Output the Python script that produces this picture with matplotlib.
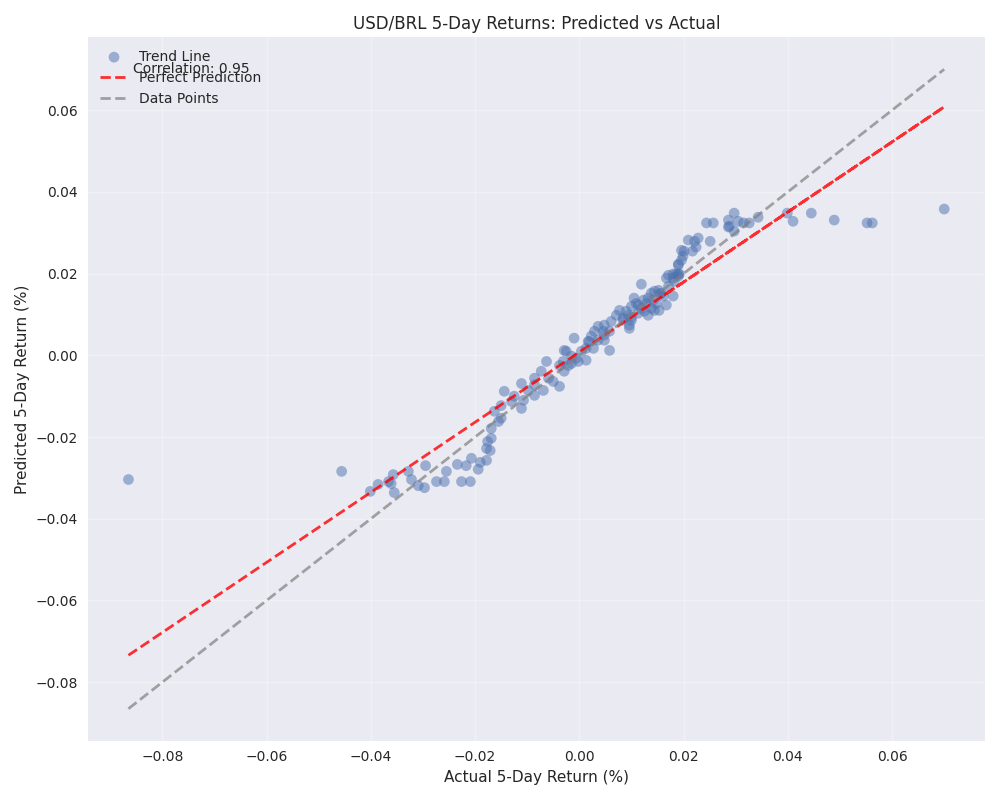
import matplotlib
matplotlib.use("Agg")
import matplotlib.pyplot as plt
import numpy as np

plt.style.use("seaborn-v0_8")
plt.rcParams["font.family"] = ["DejaVu Sans"]

# actual / predicted 5-day returns (kept in time order, unsorted)
actual = [
    -0.0865, -0.0456, -0.0401, -0.0386, -0.0366, -0.0361, -0.0357, -0.0355, -0.0328, -0.0322,
    -0.0309, -0.0297, -0.0295, -0.0274, -0.0259, -0.0255, -0.0234, -0.0226, -0.0217, -0.0209,
    -0.0207, -0.0194, -0.0190, -0.0178, -0.0178, -0.0176, -0.0171, -0.0169,
    -0.0169, 0.0297, -0.0155, 0.0288, 0.0700, -0.0150, 0.0286, -0.0163, 0.0305, -0.0150,
    0.0297, -0.0111, 0.0286, 0.0562, -0.0130, 0.0257, -0.0107, 0.0244, -0.0125, 0.0221,
    -0.0086, 0.0209, 0.0552, -0.0144, 0.0251, -0.0069, 0.0343, -0.0098, 0.0326, -0.0111,
    0.0315, 0.0489, -0.0086, 0.0171, -0.0038, 0.0190, -0.0050, 0.0180, -0.0059, 0.0190,
    0.0445, -0.0073, 0.0199, -0.0029, 0.0217, -0.0002, 0.0201, -0.0015, 0.0196, 0.0410,
    -0.0038, 0.0224, -0.0063, 0.0228, -0.0025, 0.0119, 0.0017, 0.0167, 0.0399,
    -0.0031, 0.0096, -0.0021, 0.0100, 0.0013, 0.0084, -0.0006, 0.0132, -0.0015, 0.0113,
    -0.0029, 0.0090, 0.0004, 0.0100, 0.0027, 0.0119, 0.0013, 0.0153, -0.0010, 0.0144,
    0.0058, 0.0167, 0.0048, 0.0148, 0.0019, 0.0129, 0.0036, 0.0109, 0.0023, 0.0105,
    0.0029, 0.0123, 0.0058, 0.0132, 0.0096, 0.0142, 0.0046, 0.0180, 0.0036, 0.0161,
    0.0048, 0.0138, 0.0061, 0.0144, 0.0084, 0.0152, 0.0138, 0.0171, 0.0125, 0.0182,
    0.0094, 0.0190, 0.0071, 0.0180, 0.0077, 0.0192, 0.0113, 0.0186, 0.0157, 0.0190,
    0.0100, 0.0196, 0.0048, -0.0086, 0.0155,
]
predicted = [
    -0.0304, -0.0284, -0.0333, -0.0316, -0.0309, -0.0314, -0.0292, -0.0336, -0.0284, -0.0304,
    -0.0319, -0.0324, -0.0270, -0.0309, -0.0309, -0.0284, -0.0267, -0.0309, -0.0270, -0.0309,
    -0.0252, -0.0279, -0.0262, -0.0257, -0.0228, -0.0211, -0.0233, -0.0203,
    -0.0179, 0.0304, -0.0162, 0.0316, 0.0358, -0.0154, 0.0314, -0.0137, 0.0328, -0.0123,
    0.0348, -0.0130, 0.0331, 0.0324, -0.0113, 0.0324, -0.0110, 0.0324, -0.0100, 0.0279,
    -0.0098, 0.0282, 0.0324, -0.0088, 0.0279, -0.0086, 0.0338, -0.0086, 0.0324, -0.0069,
    0.0324, 0.0331, -0.0056, 0.0196, -0.0076, 0.0199, -0.0064, 0.0199, -0.0056, 0.0223,
    0.0348, -0.0039, 0.0243, -0.0039, 0.0255, -0.0015, 0.0255, -0.0020, 0.0257, 0.0328,
    -0.0025, 0.0265, -0.0015, 0.0287, 0.0010, 0.0174, 0.0034, 0.0189, 0.0348,
    -0.0015, 0.0074, -0.0025, 0.0086, -0.0012, 0.0091, -0.0007, 0.0098, -0.0002, 0.0103,
    0.0012, 0.0108, 0.0010, 0.0120, 0.0017, 0.0115, 0.0017, 0.0110, 0.0042, 0.0110,
    0.0012, 0.0123, 0.0037, 0.0127, 0.0034, 0.0127, 0.0037, 0.0127, 0.0047, 0.0140,
    0.0059, 0.0135, 0.0059, 0.0140, 0.0066, 0.0135, 0.0059, 0.0145, 0.0071, 0.0145,
    0.0074, 0.0152, 0.0083, 0.0157, 0.0086, 0.0159, 0.0115, 0.0169, 0.0108, 0.0181,
    0.0098, 0.0194, 0.0098, 0.0189, 0.0110, 0.0199, 0.0123, 0.0199, 0.0152, 0.0221,
    0.0093, 0.0233, 0.0050, -0.0072, 0.0150,
]
corr_label = 0.95  # value printed on the chart

actual = np.array(actual)
predicted = np.array(predicted)

fig, ax = plt.subplots(figsize=(10, 8), dpi=100)

ax.scatter(actual, predicted, alpha=0.5, s=60, edgecolors="none")

# trend line drawn over the unsorted actual values
z = np.polyfit(actual, predicted, 1)
p = np.poly1d(z)
ax.plot(actual, p(actual), "r--", alpha=0.8, linewidth=2)

lo, hi = actual.min(), actual.max()
ax.plot([lo, hi], [lo, hi], "--", color="gray", alpha=0.7, linewidth=2)

ax.set_xlabel("Actual 5-Day Return (%)")
ax.set_ylabel("Predicted 5-Day Return (%)")
ax.set_title("USD/BRL 5-Day Returns: Predicted vs Actual")
ax.legend(["Trend Line", "Perfect Prediction", "Data Points"], loc="upper left")
ax.grid(True, alpha=0.3)

ax.text(0.05, 0.95, f"Correlation: {corr_label:.2f}", transform=ax.transAxes)

plt.tight_layout()
plt.savefig("out.png")
